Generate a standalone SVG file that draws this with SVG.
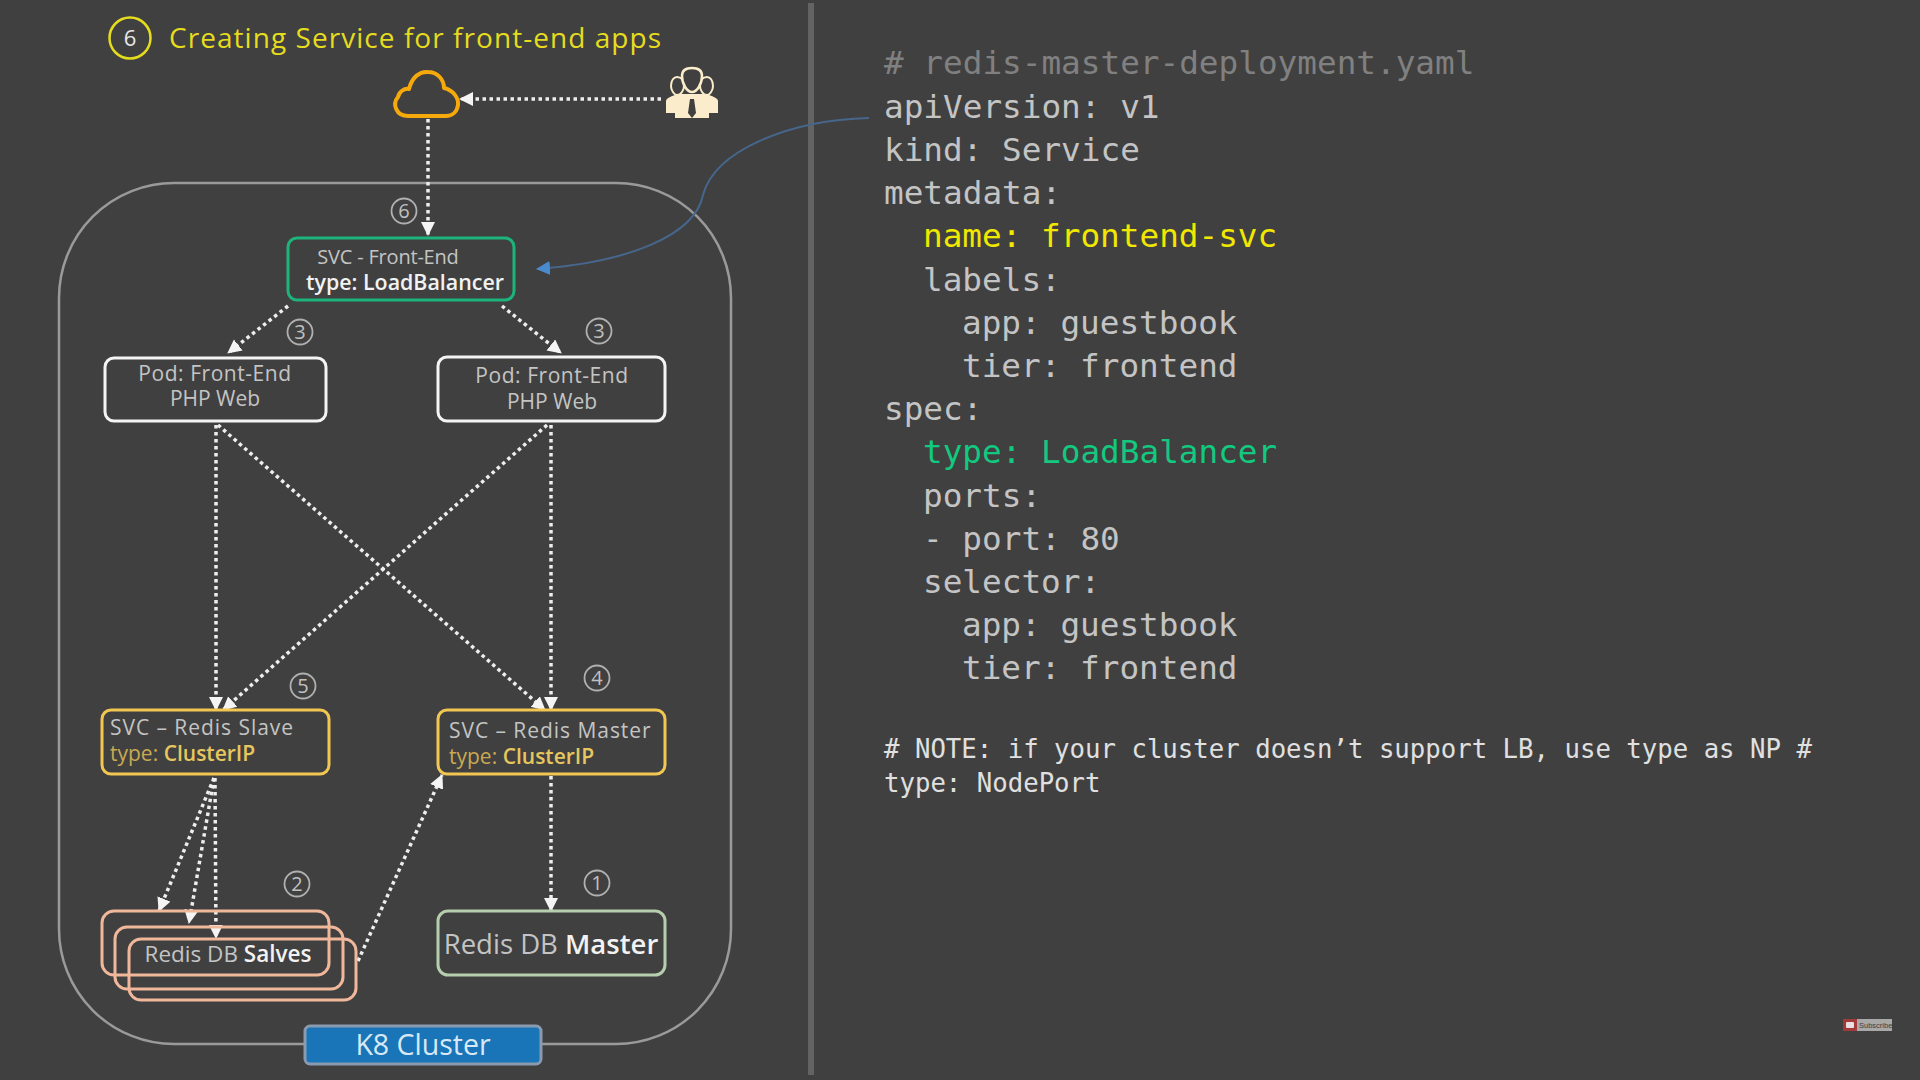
<svg xmlns="http://www.w3.org/2000/svg" width="1920" height="1080" viewBox="0 0 1920 1080">
<style>
.n{fill:none;stroke-width:3}
.t{font-family:"Open Sans","Noto Sans",sans-serif;font-size:21px;fill:#c4c4c4}
.p{letter-spacing:.55px}
.s{letter-spacing:.95px}
.m{text-anchor:middle}
.b{fill:#f2f2f2;font-weight:600}
.y{fill:#c9aa52}
.yb{fill:#e6c65e;font-weight:600}
.c{font-family:"DejaVu Sans Mono",monospace;font-size:32.7px;fill:#c4c4c4;white-space:pre}
.nt{font-family:"DejaVu Sans Mono",monospace;font-size:25.7px;fill:#e0e0e0}
.d{fill:none;stroke:#eee;stroke-width:3.5;stroke-dasharray:3.5 3.5;marker-end:url(#a)}
.num circle{fill:none;stroke:#b0b0b0;stroke-width:1.8}
.num text{font-family:"Open Sans",sans-serif;font-size:20px;fill:#c0c0c0;text-anchor:middle}
</style>
<defs>
<marker id="a" markerUnits="userSpaceOnUse" markerWidth="16" markerHeight="16" refX="13" refY="7" orient="auto"><path d="M0 0L14 7L0 14Z" fill="#f4f4f4"/></marker>
<marker id="bl" markerUnits="userSpaceOnUse" markerWidth="16" markerHeight="16" refX="13" refY="7" orient="auto"><path d="M0 0L14 7L0 14Z" fill="#4a8bd0"/></marker>
</defs>
<rect width="1920" height="1080" fill="#404040"/>
<rect x="808" y="3" width="6" height="1072" fill="#636363"/>

<g id="title">
<circle cx="130" cy="38" r="20.5" fill="none" stroke="#e6dc1e" stroke-width="2.5"/>
<text x="130" y="46" text-anchor="middle" font-family="Open Sans,sans-serif" font-size="22" fill="#e8e8e8">6</text>
<text x="169" y="48" font-family="Open Sans,sans-serif" font-size="28" letter-spacing="1.05" fill="#e6dc1e">Creating Service for front-end apps</text>
</g>

<g id="cluster"><rect x="59" y="183" width="672" height="861" rx="115" fill="none" stroke="#9a9a9a" stroke-width="2.5"/></g>

<g id="connectors">
<path class="d" d="M661 99H460"/>
<path class="d" d="M428 119V235"/>
<path class="d" d="M288 306L228 353"/>
<path class="d" d="M502 306L561 353"/>
<path class="d" d="M216 425V710"/>
<path class="d" d="M218 425L545 710"/>
<path class="d" d="M547 425L223 710"/>
<path class="d" d="M551 425V710"/>
<path class="d" d="M214 778L159 911"/>
<path class="d" d="M214 778L189 923"/>
<path class="d" d="M215 778L216 938"/>
<path class="d" d="M358 961L442 775"/>
<path class="d" d="M551 776V911"/>
<path d="M869 118C790 120 715 150 703 195C695 235 630 262 537 269" fill="none" stroke="#46668c" stroke-width="2" marker-end="url(#bl)"/>
</g>

<g id="cloud"><path d="M408 116C396 116 392 104 398 97C399 92 404 88 409 89C412 77 420 71 428 72C438 72 444 80 444 88C453 90 459 98 458 105C457 112 452 116 446 116Z" fill="none" stroke="#f5a90a" stroke-width="4" stroke-linejoin="round"/></g>

<g id="users" fill="#fbeccb">
<path d="M666 113V101C666 98 672 96 678 94H706C712 96 718 98 718 101V113Z"/>
<path d="M675 118V100L683 95L692 100L701 95L709 100V118Z"/>
<path d="M690 99H694L696 113L692 118L688 113Z" fill="#404040"/>
<path d="M671 86C671 80 674 77 677 77C681 77 684 80 684 86C684 90 681 95 677 95C674 95 671 90 671 86Z" fill="#404040" stroke="#fbeccb" stroke-width="2"/>
<path d="M700 86C700 80 703 77 707 77C710 77 713 80 713 86C713 90 710 95 707 95C703 95 700 90 700 86Z" fill="#404040" stroke="#fbeccb" stroke-width="2"/>
<path d="M682 76C682 70 686 68 692 68C698 68 702 70 702 76C702 84 697 92 692 92C687 92 682 84 682 76Z" fill="#404040" stroke="#fbeccb" stroke-width="2.5"/>
</g>

<g id="svc-frontend"><rect class="n" x="288" y="238" width="226" height="62" rx="9" stroke="#1db47c"/>
<text class="t m" x="388" y="264" style="font-size:20px;letter-spacing:-.2px">SVC - Front-End</text><text class="t m b" x="405" y="290" style="font-size:21.4px">type: LoadBalancer</text></g>

<g id="pod1"><rect class="n" x="105" y="358" width="221" height="63" rx="9" stroke="#f4f4f4"/>
<text class="t m p" x="215" y="381">Pod: Front-End</text><text class="t m" x="215" y="406">PHP Web</text></g>
<g id="pod2"><rect class="n" x="438" y="357" width="227" height="64" rx="9" stroke="#f4f4f4"/>
<text class="t m p" x="552" y="383">Pod: Front-End</text><text class="t m" x="552" y="409">PHP Web</text></g>

<g id="svc-slave"><rect class="n" x="102" y="710" width="227" height="64" rx="9" stroke="#f2c650"/>
<text class="t s" x="110" y="735">SVC – Redis Slave</text><text class="t" x="110" y="761"><tspan class="y">type: </tspan><tspan class="yb">ClusterIP</tspan></text></g>
<g id="svc-master"><rect class="n" x="438" y="710" width="227" height="64" rx="9" stroke="#f2c650"/>
<text class="t s" x="449" y="738">SVC – Redis Master</text><text class="t" x="449" y="764"><tspan class="y">type: </tspan><tspan class="yb">ClusterIP</tspan></text></g>

<g id="redis-slaves" stroke="#f0b79a">
<rect class="n" x="102" y="911" width="227" height="64" rx="12"/>
<rect class="n" x="115" y="927" width="228" height="62" rx="12"/>
<rect class="n" x="129" y="939" width="227" height="61" rx="12"/>
<text class="t m" x="228" y="962" stroke="none" style="font-size:22.5px">Redis DB <tspan class="b">Salves</tspan></text></g>

<g id="redis-master"><rect class="n" x="438" y="911" width="227" height="64" rx="10" stroke="#b5cfae"/>
<text class="t m" x="551" y="954" style="font-size:27.5px">Redis DB <tspan class="b">Master</tspan></text></g>

<g id="k8"><rect x="305" y="1026" width="236" height="38" rx="5" fill="#1a75b8" stroke="#8a9bb0" stroke-width="3"/>
<text class="t m" x="423" y="1055" style="font-size:28.5px;fill:#d8e8f4">K8 Cluster</text></g>

<g class="num" id="n6"><circle cx="404" cy="211" r="12.5"/><text x="404" y="218">6</text></g>
<g class="num" id="n3a"><circle cx="300" cy="332" r="12.5"/><text x="300" y="339">3</text></g>
<g class="num" id="n3b"><circle cx="599" cy="331" r="12.5"/><text x="599" y="338">3</text></g>
<g class="num" id="n5"><circle cx="303" cy="686" r="12.5"/><text x="303" y="693">5</text></g>
<g class="num" id="n4"><circle cx="597" cy="678" r="12.5"/><text x="597" y="685">4</text></g>
<g class="num" id="n2"><circle cx="297" cy="884" r="12.5"/><text x="297" y="891">2</text></g>
<g class="num" id="n1"><circle cx="597" cy="883" r="12.5"/><text x="597" y="890">1</text></g>

<g id="code">
<text class="c" x="884" y="74" style="fill:#808080"># redis-master-deployment.yaml</text>
<text class="c" x="884" y="118">apiVersion: v1</text>
<text class="c" x="884" y="161">kind: Service</text>
<text class="c" x="884" y="204">metadata:</text>
<text class="c" x="923" y="247" style="fill:#f0e800">name: frontend-svc</text>
<text class="c" x="923" y="291">labels:</text>
<text class="c" x="962" y="334">app: guestbook</text>
<text class="c" x="962" y="377">tier: frontend</text>
<text class="c" x="884" y="420">spec:</text>
<text class="c" x="923" y="463" style="fill:#12c97f">type: LoadBalancer</text>
<text class="c" x="923" y="507">ports:</text>
<text class="c" x="923" y="550">- port: 80</text>
<text class="c" x="923" y="593">selector:</text>
<text class="c" x="962" y="636">app: guestbook</text>
<text class="c" x="962" y="679">tier: frontend</text>
<text class="nt" x="884" y="758"># NOTE: if your cluster doesn’t support LB, use type as NP #</text>
<text class="nt" x="884" y="792">type: NodePort</text>
</g>

<g id="subscribe"><rect x="1843" y="1019" width="14" height="12" fill="#a33a3a"/><rect x="1846" y="1022" width="8" height="6" rx="1" fill="#e8e0e0"/><rect x="1857" y="1019" width="35" height="12" fill="#a8a8a8"/>
<text x="1859" y="1028" font-family="Liberation Sans,sans-serif" font-size="7.5" fill="#404040">Subscribe</text></g>
</svg>
